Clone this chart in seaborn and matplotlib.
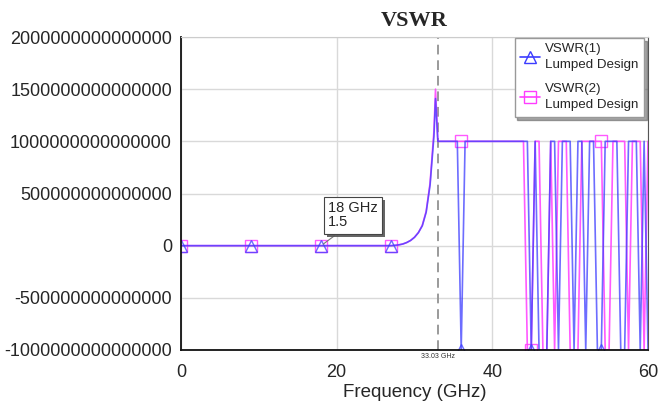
import matplotlib
matplotlib.use("Agg")
import matplotlib.pyplot as plt
import matplotlib.patheffects as pe
from matplotlib.ticker import FuncFormatter
import seaborn as sns

# frequency points (GHz)
freq = [0, 9, 18, 27, 27.5, 28, 28.5, 29, 29.5, 30, 30.5, 31, 31.5, 32, 32.5, 32.7,
        33.0, 33.5, 34.0, 34.5, 35.0, 35.5, 36.0, 36.5, 37.0, 37.5,
        38.0, 38.5, 39.0, 39.5, 40.0, 40.5, 41.0, 41.5, 42.0, 42.5,
        43.0, 43.5, 44.0, 44.5, 45.0, 45.5, 46.0, 46.5, 47.0, 47.5,
        48.0, 48.5, 49.0, 49.5, 50.0, 50.5, 51.0, 51.5, 52.0, 52.5,
        53.0, 53.5, 54.0, 54.5, 55.0, 55.5, 56.0, 56.5, 57.0, 57.5,
        58.0, 58.5, 59.0, 59.5, 60.0]

vswr1 = [1.5, 1.5, 1.5, 1.5, 3e12, 8e12, 1.6e13, 3e13, 5e13, 8e13, 1.25e14, 1.9e14, 3.2e14, 5.8e14, 1.05e15, 1.41e15,
         1e15, 1e15, 1e15, 1e15, 1e15, 1e15, -1e15, 1e15, 1e15, 1e15,
         1e15, 1e15, 1e15, 1e15, 1e15, 1e15, 1e15, 1e15, 1e15, 1e15,
         1e15, 1e15, 1e15, 1e15, -1e15, 1e15, -1e15, -1e15, -1e15, 1e15,
         1e15, -1e15, 1e15, 1e15, 1e15, -1e15, 1e15, 1e15, -1e15, 1e15,
         1e15, -1e15, -1e15, 1e15, 1e15, 1e15, 1e15, -1e15, -1e15, 1e15,
         1e15, 1e15, -1e15, 1e15, -1e15]

vswr2 = [1.5, 1.5, 1.5, 1.5, 3e12, 8e12, 1.6e13, 3e13, 5e13, 8.1e13, 1.25e14, 1.95e14, 3.3e14, 6e14, 1.1e15, 1.5e15,
         1e15, 1e15, 1e15, 1e15, 1e15, 1e15, 1e15, 1e15, 1e15, 1e15,
         1e15, 1e15, 1e15, 1e15, 1e15, 1e15, 1e15, 1e15, 1e15, 1e15,
         1e15, 1e15, 1e15, -1e15, -1e15, 1e15, 1e15, -1e15, -1e15, 1e15,
         -1e15, 1e15, 1e15, 1e15, -1e15, -1e15, -1e15, 1e15, 1e15, 1e15,
         1e15, 1e15, 1e15, -1e15, -1e15, 1e15, 1e15, 1e15, 1e15, -1e15,
         1e15, 1e15, 1e15, -1e15, 1e15]

marker_freqs = [0, 9, 18, 27, 36, 45, 54]
yticks = [-1e15, -5e14, 0, 5e14, 1e15, 1.5e15, 2e15]
xticks = [0, 20, 40, 60]
cursor_freq = 33.03

sns.set_style("white")
plt.rcParams['font.family'] = ['Liberation Sans', 'DejaVu Sans']

fig = plt.figure(figsize=(6.58, 4.03), dpi=100)
ax = fig.add_axes([181/658, 1 - 350/403, (648 - 181)/658, (350 - 37)/403])

mark_idx = [freq.index(f) for f in marker_freqs]

sns.lineplot(x=freq, y=vswr2, ax=ax, sort=False, estimator=None, color="#ff3cff", alpha=0.85,
             lw=1.2, marker="s", markevery=mark_idx, markersize=8, markerfacecolor="none",
             markeredgecolor="#ff3cff", markeredgewidth=1, label="VSWR(2)\nLumped Design")
sns.lineplot(x=freq, y=vswr1, ax=ax, sort=False, estimator=None, color="#3c3cff", alpha=0.75,
             lw=1.2, marker="^", markevery=mark_idx, markersize=8, markerfacecolor="none",
             markeredgecolor="#3c3cff", markeredgewidth=1, label="VSWR(1)\nLumped Design")

ax.set_xlim(0, 60)
ax.set_ylim(-1e15, 2e15)
ax.set_xticks(xticks)
ax.set_yticks(yticks)
ax.yaxis.set_major_formatter(FuncFormatter(lambda v, p: f"{v:.0f}"))
ax.tick_params(axis="both", length=0, labelsize=13)
ax.tick_params(axis="x", pad=10)
ax.tick_params(axis="y", pad=6.5)
ax.grid(True, color="#d9d9d9", lw=1)

for side in ["left", "bottom"]:
    ax.spines[side].set_color("#111111")
    ax.spines[side].set_linewidth(1.3)
ax.spines["right"].set_color("#555555")
ax.spines["top"].set_color("#cccccc")

ax.set_title("VSWR", fontsize=16, fontweight="bold", family="Liberation Serif", pad=8)
ax.set_xlabel("Frequency (GHz)", fontsize=13.5, labelpad=2.5)
ax.set_ylabel("")

# cursor line
ax.axvline(cursor_freq, color="#9a9a9a", ls=(0, (5, 3)), lw=1.4, zorder=1)
ax.text(cursor_freq, -0.008, f"{cursor_freq:.2f} GHz", transform=ax.get_xaxis_transform(),
        ha="center", va="top", fontsize=5, color="#333333")

# marker readout
idx18 = freq.index(18)
ann = ax.annotate("18 GHz\n1.5", xy=(freq[idx18], vswr1[idx18]), xytext=(18.9, 0.29e15),
                  fontsize=10.5, va="center", ha="left", linespacing=1.0, zorder=5,
                  bbox=dict(boxstyle="square,pad=0.3", fc="white", ec="#444444", lw=0.8),
                  arrowprops=dict(arrowstyle="-", color="#777777", lw=0.8, relpos=(0.3, 0)))
ann.get_bbox_patch().set_path_effects([pe.SimplePatchShadow(offset=(2, -2), shadow_rgbFace="#555555", alpha=0.9),
                                       pe.Normal()])

handles, labels = ax.get_legend_handles_labels()
leg = ax.legend(handles[::-1], labels[::-1], loc="upper right",
                bbox_to_anchor=(644/658, 1 - 38/403), bbox_transform=fig.transFigure,
                borderaxespad=0, fontsize=9.6, frameon=True, fancybox=False, shadow=True,
                handlelength=1.5, handletextpad=0.4, labelspacing=0.9, borderpad=0.4)
leg.get_frame().set_edgecolor("#999999")
leg.get_frame().set_linewidth(1)
for txt in leg.get_texts():
    txt.set_linespacing(1.45)
for lh in leg.get_lines():
    lh.set_alpha(1)

fig.savefig("out.png", dpi=100)
